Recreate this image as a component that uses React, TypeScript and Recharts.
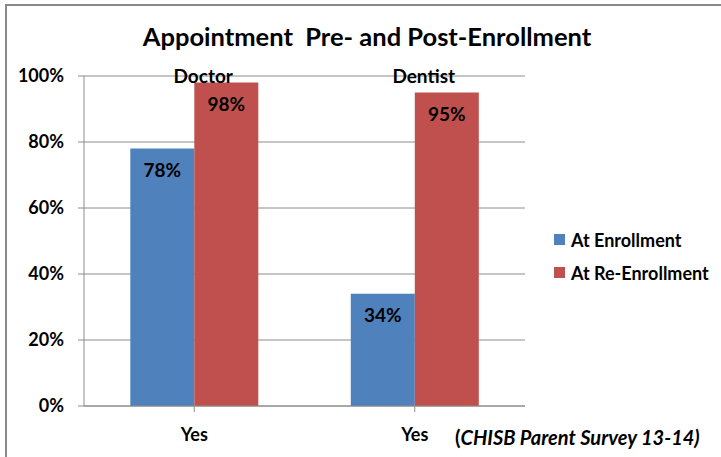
import React from 'react';
import { BarChart, Bar, XAxis, YAxis, CartesianGrid, LabelList, ReferenceDot } from 'recharts';

const categories = ['Yes', 'Yes'];
const groups = ['Doctor', 'Dentist'];
const atEnrollment = [0.78, 0.34];
const atReEnrollment = [0.98, 0.95];
const yTicks = [0, 0.2, 0.4, 0.6, 0.8, 1];

const data = categories.map((name, i) => ({
  key: `${groups[i]}-${name}`,
  name,
  group: groups[i],
  enrollment: atEnrollment[i],
  reEnrollment: atReEnrollment[i],
}));

const FONT = 'Lato, "Open Sans", sans-serif';
const pct = (v: number) => `${Math.round(v * 100)}%`;

const CategoryTick = (props: any) => {
  const { x, y, payload } = props;
  return (
    <text x={x} y={y} dy={17} textAnchor="middle" fontFamily={FONT} fontWeight={700} fontSize={18} fill="#000">
      {categories[payload.index] ?? ''}
    </text>
  );
};

const legendItems = [
  { label: 'At Enrollment', color: '#4F81BD' },
  { label: 'At Re-Enrollment', color: '#C0504D' },
];

const labelStyle = { fill: '#000', fontSize: 19, fontWeight: 700, fontFamily: FONT };

const App: React.FC = () => (
  <div style={{ position: 'absolute', left: 0, top: 0, width: 721, height: 457, background: '#fff', fontFamily: FONT }}>
    <div
      style={{
        position: 'absolute',
        left: 5,
        top: 4,
        width: 716,
        height: 453,
        borderLeft: '2px solid #8a8a8a',
        borderTop: '2px solid #8a8a8a',
      }}
    />
    <div
      style={{
        position: 'absolute',
        left: 0,
        top: 21,
        width: 734,
        textAlign: 'center',
        fontWeight: 700,
        fontSize: 25.5,
        whiteSpace: 'pre',
        color: '#000',
      }}
    >
      {'Appointment  Pre- and Post-Enrollment'}
    </div>
    <BarChart
      width={721}
      height={457}
      data={data}
      margin={{ top: 76, right: 196, left: 0, bottom: 0 }}
      barCategoryGap="21%"
      barGap={0}
      style={{ position: 'absolute', left: 0, top: 0 }}
    >
      <CartesianGrid vertical={false} stroke="#8c8c8c" strokeWidth={1} />
      <XAxis
        dataKey="key"
        height={51}
        stroke="#8c8c8c"
        tickSize={6}
        tickMargin={12}
        interval={0}
        tick={<CategoryTick />}
      />
      <YAxis
        width={84}
        domain={[0, 1]}
        ticks={yTicks}
        tickFormatter={pct}
        stroke="#8c8c8c"
        tickSize={6}
        tickMargin={14}
        tick={{ fill: '#000', fontSize: 18, fontWeight: 700, fontFamily: FONT }}
      />
      <Bar dataKey="enrollment" fill="#4F81BD" isAnimationActive={false}>
        <LabelList
          dataKey="enrollment"
          position="insideTop"
          offset={15}
          formatter={(v: any) => pct(Number(v))}
          style={labelStyle}
        />
      </Bar>
      <Bar dataKey="reEnrollment" fill="#C0504D" isAnimationActive={false}>
        <LabelList
          dataKey="reEnrollment"
          position="insideTop"
          offset={15}
          formatter={(v: any) => pct(Number(v))}
          style={labelStyle}
        />
      </Bar>
      {data.map((d) => (
        <ReferenceDot
          key={d.key}
          x={d.key}
          y={1}
          r={0}
          fill="none"
          stroke="none"
          ifOverflow="visible"
          label={{
            value: d.group,
            position: 'center',
            dx: 9,
            fill: '#000',
            fontSize: 19,
            fontWeight: 700,
            fontFamily: FONT,
          }}
        />
      ))}
    </BarChart>
    <div style={{ position: 'absolute', left: 554, top: 223 }}>
      {legendItems.map((item) => (
        <div key={item.label} style={{ display: 'flex', alignItems: 'center', height: 33 }}>
          <span style={{ width: 11, height: 11, background: item.color, marginRight: 6, display: 'inline-block' }} />
          <span style={{ fontSize: 18, fontWeight: 700, color: '#000', whiteSpace: 'nowrap' }}>{item.label}</span>
        </div>
      ))}
    </div>
    <div
      style={{
        position: 'absolute',
        left: 455,
        top: 425,
        fontSize: 20,
        fontWeight: 700,
        color: '#000',
        whiteSpace: 'nowrap',
      }}
    >
      (<span style={{ fontStyle: 'italic' }}>CHISB Parent Survey 13-14)</span>
    </div>
  </div>
);

export default App;
